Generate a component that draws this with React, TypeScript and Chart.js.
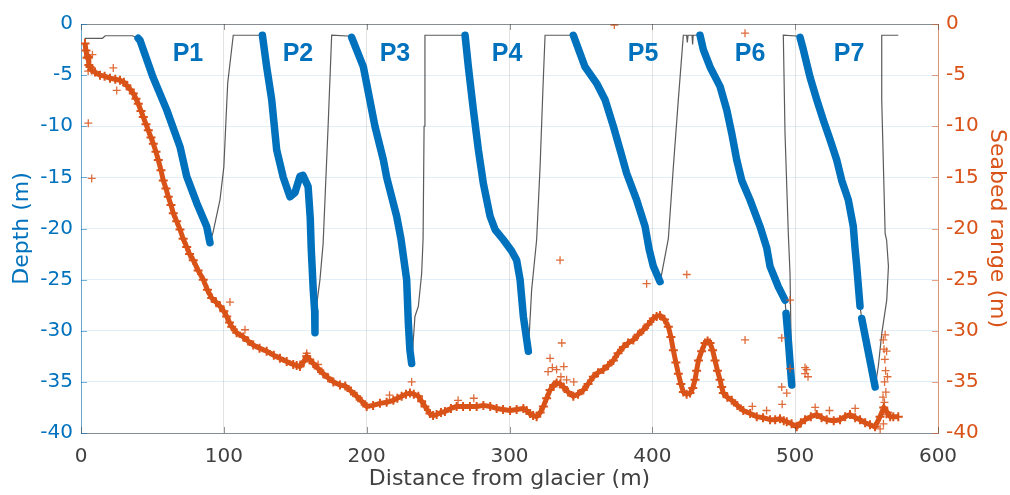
import React, { useEffect, useRef } from "react";
import { Chart, registerables } from "chart.js";

Chart.register(...registerables);

type Pt = [number, number] | null;

// ---- Blue dive profiles (distance m, depth m) ----
const P1: Pt[] = [[40, -1.4], [41.3, -1.6], [50.4, -5.2], [60, -8.4], [69.3, -12], [74, -14.9], [81, -17.5], [88, -19.8], [90.3, -21.4]];
const P2: Pt[] = [[127, -1.1], [130, -4.2], [133.5, -7.4], [137, -12.3], [141.6, -15], [146.3, -16.9], [149.8, -16.5], [153.3, -14.9], [155.4, -14.8], [159, -15.9], [160.5, -19], [161.2, -22], [162.6, -26], [163.6, -28.1], [163.8, -30.2]];
const P3: Pt[] = [[189.5, -1.3], [197.7, -4.2], [205.8, -10], [211.7, -13.3], [214, -15], [221, -18.8], [224, -21], [228, -25], [229.2, -29.3], [230.3, -31.9], [231.5, -33.2]];
const P4: Pt[] = [[268.9, -1.1], [271.2, -4.2], [274.7, -8.4], [278.2, -12.3], [281.7, -15.6], [286.4, -18.8], [289.9, -20.1], [295.7, -21.1], [301.5, -22.2], [305, -23.1], [307.4, -25], [309.7, -28.6], [313.2, -32]];
const P5: Pt[] = [[344.7, -1.1], [352.9, -4.2], [361, -5.8], [366.9, -7.4], [372.7, -10], [377.4, -12.3], [382, -14.6], [389, -17.2], [394.9, -19.8], [397.7, -22], [400.7, -23.7], [405.4, -25.2]];
const P6: Pt[] = [[433.4, -1.1], [435.7, -2.5], [440.4, -4.2], [447.4, -6.1], [452.1, -8.4], [455.6, -10.7], [459.1, -13.3], [462.6, -15.3], [468.4, -17.2], [475.4, -19.8], [480.1, -21.9], [482.4, -23.7], [488.2, -25.7], [492.9, -27], null, [493.6, -28.3], [495.2, -30.9], [497.6, -35.3]];
const P7: Pt[] = [[503.4, -1.3], [505.7, -2.5], [510.4, -5.2], [515.1, -7.4], [519.7, -9.4], [524.4, -11.3], [529.1, -13.3], [532.6, -15.3], [537.2, -17.2], [540.7, -19.8], [541.9, -21.9], [543.1, -23.7], [545.4, -27.6], null, [546.6, -28.8], [556, -35.5]];

// ---- Thin black track: surface legs and ascents ----
const TRACK_START: Pt[] = [[2.5, -1.4], [15, -1.4], [17, -1.15], [36, -1.15], [40, -1.4]];
const ASCENT1: Pt[] = [[90.3, -21.4], [92.4, -20.4], [97.3, -17.2], [100, -14], [101.3, -10], [102.7, -5.8], [106.6, -1.1], [127, -1.1]];
const ASCENT2: Pt[] = [[163.8, -30.2], [164.5, -28], [167.3, -25], [169.5, -21.5], [173, -10], [175.5, -1.1], [189.5, -1.2]];
const ASCENT3: Pt[] = [[231.5, -33.2], [233.8, -28.6], [236.2, -27.6], [238.5, -24.4], [239.5, -21], [240.2, -10], [240.8, -1.1], [268.9, -1.1]];
const ASCENT4: Pt[] = [[313.2, -32], [315.5, -26], [319, -21.1], [321.4, -14], [323.5, -6], [324.9, -1.1], [344.7, -1.1]];
const ASCENT5: Pt[] = [[405.4, -25.3], [411.2, -21], [414.7, -14], [418.2, -7.4], [421.7, -1.1], [424, -1.1], [424.5, -1.8], [425, -1.1], [427.8, -1.1], [428.2, -2], [428.6, -1.1], [433.4, -1.1]];
const ASCENT6: Pt[] = [[497.6, -35.3], [496.4, -24.4], [495.2, -20.5], [492.9, -10.7], [491.7, -1.1], [503.4, -1.2]];
const ASCENT7: Pt[] = [[556, -35.5], [558.2, -33.5], [560.6, -30.3], [564.1, -27], [565.3, -23.7], [564, -21.1], [563, -20.5], [560.6, -7.4], [560.6, -1.1], [572.2, -1.1]];

// ---- Seabed range (right axis) ----
const SEABED: Pt[] = [[2.8, -1.9], [3.5, -2.6], [4.2, -3.3], [5.1, -3.2], [5.5, -4], [6.3, -4.2], [7.5, -4.5], [9.8, -4.7], [13.3, -5], [16.5, -5.1], [20.3, -5.3], [24, -5.4], [27.3, -5.5], [30, -5.7], [32, -6], [34.5, -6.4], [36.6, -6.8], [38.5, -7.3], [40.1, -7.8], [42, -8.5], [43.6, -9.1], [45.5, -9.8], [47.1, -10.4], [49, -11.1], [50.6, -11.7], [52.5, -12.5], [54.1, -13.3], [56, -14.3], [57.6, -15.3], [59.5, -16.1], [61.1, -16.9], [63, -17.7], [64.6, -18.5], [67, -19.3], [69.3, -20.1], [71.5, -21], [74, -21.8], [76, -22.5], [78.6, -23.1], [82, -24.1], [85.6, -25], [88.5, -26], [91.5, -26.8], [94.5, -27.2], [97.3, -27.6], [100, -28.1], [102, -28.6], [104, -29.2], [105.5, -29.6], [109, -30.2], [113.6, -30.6], [117, -31], [120.6, -31.4], [125, -31.7], [130, -32], [135, -32.4], [139.3, -32.7], [144, -33], [148.6, -33.3], [151, -33.4], [153.3, -33.5], [156, -33], [158, -32.5], [160, -32.8], [162.6, -33.2], [166, -33.7], [169.6, -34.2], [173, -34.6], [176.7, -35], [181.3, -35.3], [185, -35.4], [189, -35.9], [193, -36.4], [196.5, -36.9], [200, -37.4], [204.5, -37.3], [209.3, -37.1], [214, -37], [218.7, -36.8], [221.5, -36.6], [224.5, -36.4], [227.5, -36.2], [230.3, -36.1], [233, -36.2], [236.2, -36.4], [238.5, -36.9], [240.8, -37.4], [244.3, -38.1], [246.5, -38.3], [249, -38.2], [252, -38], [254.8, -37.9], [259, -37.6], [263, -37.4], [267.5, -37.4], [272.3, -37.4], [277, -37.4], [281.7, -37.3], [286.5, -37.4], [291, -37.6], [295.5, -37.7], [300.4, -37.8], [305, -37.7], [309.7, -37.6], [312, -37.8], [314.4, -38.1], [316.5, -38.3], [319, -38.4], [321.5, -38], [323.7, -37.4], [326, -36.6], [328.4, -35.8], [331, -35.3], [333, -35.1], [335.5, -35.2], [337.7, -35.5], [341, -36], [344.7, -36.4], [348, -36.2], [351.7, -35.8], [355, -35.2], [358.7, -34.5], [362, -34.1], [365.7, -33.8], [369, -33.4], [372.7, -32.9], [376, -32.2], [379.7, -31.6], [383, -31.2], [386.7, -30.9], [390, -30.4], [393.7, -29.9], [397, -29.4], [400.7, -28.8], [403, -28.6], [405.4, -28.5], [408.5, -28.9], [411.2, -29.6], [413, -30.6], [414.7, -31.9], [416.5, -33.1], [418.2, -34.2], [420, -35.2], [421.7, -36], [424, -36.2], [426.4, -36.1], [428.3, -35.6], [429.9, -34.8], [431, -33.9], [432.3, -32.9], [434.5, -32], [436.9, -31.2], [438.7, -31], [440.4, -31.2], [442.2, -31.9], [443.9, -32.9], [445.6, -33.9], [447.4, -34.8], [448.5, -35.5], [449.7, -36.1], [452.5, -36.5], [455.6, -36.8], [459.5, -37.3], [463.7, -37.8], [468.5, -38.1], [473.1, -38.4], [477.5, -38.5], [482.4, -38.7], [486, -38.7], [489.4, -38.6], [492, -38.8], [494.1, -38.9], [497.5, -39.1], [501.1, -39.4], [504, -39], [506.9, -38.7], [511, -38.4], [515.1, -38.2], [518.5, -38.5], [522.1, -38.7], [527, -38.8], [531.4, -38.7], [535, -38.4], [538.4, -38.2], [542, -38.5], [545.4, -38.7], [549, -39], [552.4, -39.2], [555.9, -39.4], [559.4, -38.4], [562, -37.5], [564.5, -38], [566.5, -38.4], [568.7, -38.4], [572.2, -38.4]];
const SEABED_SCATTER: Pt[] = [[5.1, -9.7], [7.5, -15.1], [22.6, -4.3], [25, -6.5], [5, -4.6], [8, -3], [104.3, -27.2], [114.8, -29.9], [158, -32.2], [166, -33.3], [231.5, -35], [216, -36.3], [264, -36.8], [275, -36.6], [327, -34], [333, -33.8], [336, -34.5], [338, -33.5], [340, -34.8], [335.4, -23.1], [336.6, -31.2], [328.4, -32.7], [330, -33.6], [332, -35.2], [345, -35], [396, -25.4], [373.4, -0.1], [464.9, -0.9], [424.1, -24.5], [464.9, -30.9], [490.6, -30.7], [496.4, -27], [506.9, -34.2], [506.9, -33.6], [490.6, -35.5], [494.1, -36.1], [496.4, -33.7], [490.9, -37.2], [508, -33.8], [509, -34.5], [561.7, -30.9], [562.2, -31.8], [562.8, -32.8], [563.3, -33.9], [562.6, -35], [563.5, -36], [562.5, -37], [563.8, -38.2], [561.8, -39.1], [559.5, -39.6], [564.6, -34.5], [561.5, -36.5], [563, -30.4], [564, -32], [514, -37.5], [524, -37.8], [542, -37.6], [470, -37.4], [480, -37.8]];

// ---- Text labels ----
const PROFILE_LABELS = ["P1", "P2", "P3", "P4", "P5", "P6", "P7"];
const LABEL_X = [74.9, 151.9, 219.8, 298.3, 393.5, 468.4, 537.7];
const LABEL_Y = -2.9;

const X_TICKS = [0, 100, 200, 300, 400, 500, 600];
const Y_TICKS = [0, -5, -10, -15, -20, -25, -30, -35, -40];

const BLUE = "#0072BD";
const ORANGE = "#D95319";

const toXY = (a: Pt[]) =>
  a.map((p, i) => (p === null ? { x: (a[i - 1] as [number, number])[0], y: null } : { x: p[0], y: p[1] }));

export default function App() {
  const ref = useRef<HTMLCanvasElement>(null);
  useEffect(() => {
    if (!ref.current) return;
    const track = [
      ...TRACK_START, ...P1, ...ASCENT1, ...P2, ...ASCENT2, ...P3, ...ASCENT3, ...P4, ...ASCENT4,
      ...P5, ...ASCENT5, ...P6.filter((p) => p !== null), ...ASCENT6, ...P7.filter((p) => p !== null), ...ASCENT7,
    ];
    const profile = (d: Pt[]) => ({
      data: toXY(d),
      showLine: true,
      borderColor: BLUE,
      borderWidth: 7.5,
      borderCapStyle: "round" as const,
      borderJoinStyle: "round" as const,
      pointRadius: 0,
      spanGaps: false,
      yAxisID: "y",
    });
    const framePlugin = {
      id: "frame",
      afterDraw(chart: any) {
        const { ctx, chartArea, scales } = chart;
        const { left, right, top, bottom } = chartArea;
        ctx.save();
        ctx.lineWidth = 1;
        ctx.strokeStyle = "rgba(60,60,60,0.55)";
        ctx.beginPath();
        ctx.moveTo(left, top + 0.5);
        ctx.lineTo(right, top + 0.5);
        for (const v of X_TICKS) {
          const px = Math.round(scales.x.getPixelForValue(v)) + 0.5;
          ctx.moveTo(px, top);
          ctx.lineTo(px, top + 6);
          ctx.moveTo(px, bottom);
          ctx.lineTo(px, bottom - 6);
        }
        ctx.stroke();
        ctx.strokeStyle = "rgba(0,114,189,0.55)";
        ctx.beginPath();
        for (const v of Y_TICKS) {
          const py = Math.round(scales.y.getPixelForValue(v)) + 0.5;
          ctx.moveTo(left, py);
          ctx.lineTo(left + 6, py);
        }
        ctx.stroke();
        ctx.strokeStyle = "rgba(217,83,25,0.55)";
        ctx.beginPath();
        for (const v of Y_TICKS) {
          const py = Math.round(scales.y2.getPixelForValue(v)) + 0.5;
          ctx.moveTo(right, py);
          ctx.lineTo(right - 6, py);
        }
        ctx.stroke();
        ctx.fillStyle = BLUE;
        ctx.font = "bold 25px 'Liberation Sans', Arial, sans-serif";
        ctx.textAlign = "center";
        ctx.textBaseline = "middle";
        PROFILE_LABELS.forEach((t, i) => {
          ctx.fillText(t, scales.x.getPixelForValue(LABEL_X[i]), scales.y.getPixelForValue(LABEL_Y));
        });
        ctx.restore();
      },
    };
    const chart = new Chart(ref.current, {
      type: "scatter",
      data: {
        datasets: [
          {
            data: toXY(SEABED_SCATTER),
            showLine: false,
            pointStyle: "cross",
            pointRadius: 4,
            pointBorderWidth: 1.3,
            borderColor: "rgba(217,83,25,0.85)",
            backgroundColor: "rgba(217,83,25,0.85)",
            yAxisID: "y2",
          },
          {
            data: toXY(SEABED),
            showLine: true,
            borderColor: ORANGE,
            borderWidth: 5,
            borderJoinStyle: "round",
            pointStyle: "cross",
            pointRadius: 4.5,
            pointBorderWidth: 2,
            pointBorderColor: ORANGE,
            backgroundColor: ORANGE,
            yAxisID: "y2",
          } as any,
          profile(P1), profile(P2), profile(P3), profile(P4), profile(P5), profile(P6), profile(P7),
          {
            data: toXY(track),
            showLine: true,
            borderColor: "rgba(50,50,50,0.8)",
            borderWidth: 1.2,
            pointRadius: 0,
            yAxisID: "y",
          },
        ] as any,
      },
      options: {
        animation: false,
        responsive: false,
        maintainAspectRatio: false,
        events: [],
        layout: { padding: { top: 24, left: 0, right: 0, bottom: 0 } },
        plugins: { legend: { display: false }, tooltip: { enabled: false } },
        scales: {
          x: {
            type: "linear",
            min: 0,
            max: 600,
            afterFit: (s: any) => { s.height = 62; },
            afterBuildTicks: (s: any) => { s.ticks = X_TICKS.map((v) => ({ value: v })); },
            grid: { color: "rgba(38,38,38,0.13)", drawTicks: false },
            border: { display: true, color: "rgba(60,60,60,0.55)", width: 1 },
            ticks: { padding: 12, color: "#404040", font: { family: "'DejaVu Sans'", size: 20 } },
            title: { display: true, text: "Distance from glacier (m)", color: "#404040", font: { family: "'DejaVu Sans'", size: 22 }, padding: { top: 0, bottom: 3 } },
          },
          y: {
            type: "linear",
            position: "left",
            min: -40,
            max: 0,
            afterFit: (s: any) => { s.width = 81; },
            afterBuildTicks: (s: any) => { s.ticks = Y_TICKS.map((v) => ({ value: v })); },
            grid: { color: "rgba(0,114,189,0.12)", drawTicks: false },
            border: { display: true, color: "rgba(0,114,189,0.55)", width: 1 },
            ticks: { padding: 8, color: BLUE, font: { family: "'DejaVu Sans'", size: 20 } },
            title: { display: true, text: "Depth (m)", color: BLUE, font: { family: "'DejaVu Sans'", size: 22 }, padding: { top: 9, bottom: 0 } },
          },
          y2: {
            type: "linear",
            position: "right",
            min: -40,
            max: 0,
            afterFit: (s: any) => { s.width = 72; },
            afterBuildTicks: (s: any) => { s.ticks = Y_TICKS.map((v) => ({ value: v })); },
            grid: { display: false, drawTicks: false },
            border: { display: true, color: "rgba(217,83,25,0.55)", width: 1 },
            ticks: { padding: 8, color: ORANGE, font: { family: "'DejaVu Sans'", size: 20 } },
            title: { display: true, text: "Seabed range (m)", color: ORANGE, font: { family: "'DejaVu Sans'", size: 22 }, padding: { top: 0, bottom: 0 } },
          },
        },
      } as any,
      plugins: [framePlugin],
    });
    return () => chart.destroy();
  }, []);
  return (
    <div style={{ position: "fixed", left: 0, top: 0, width: 1010, height: 495, background: "#fff" }}>
      <canvas ref={ref} width={1010} height={495} style={{ display: "block" }} />
    </div>
  );
}
